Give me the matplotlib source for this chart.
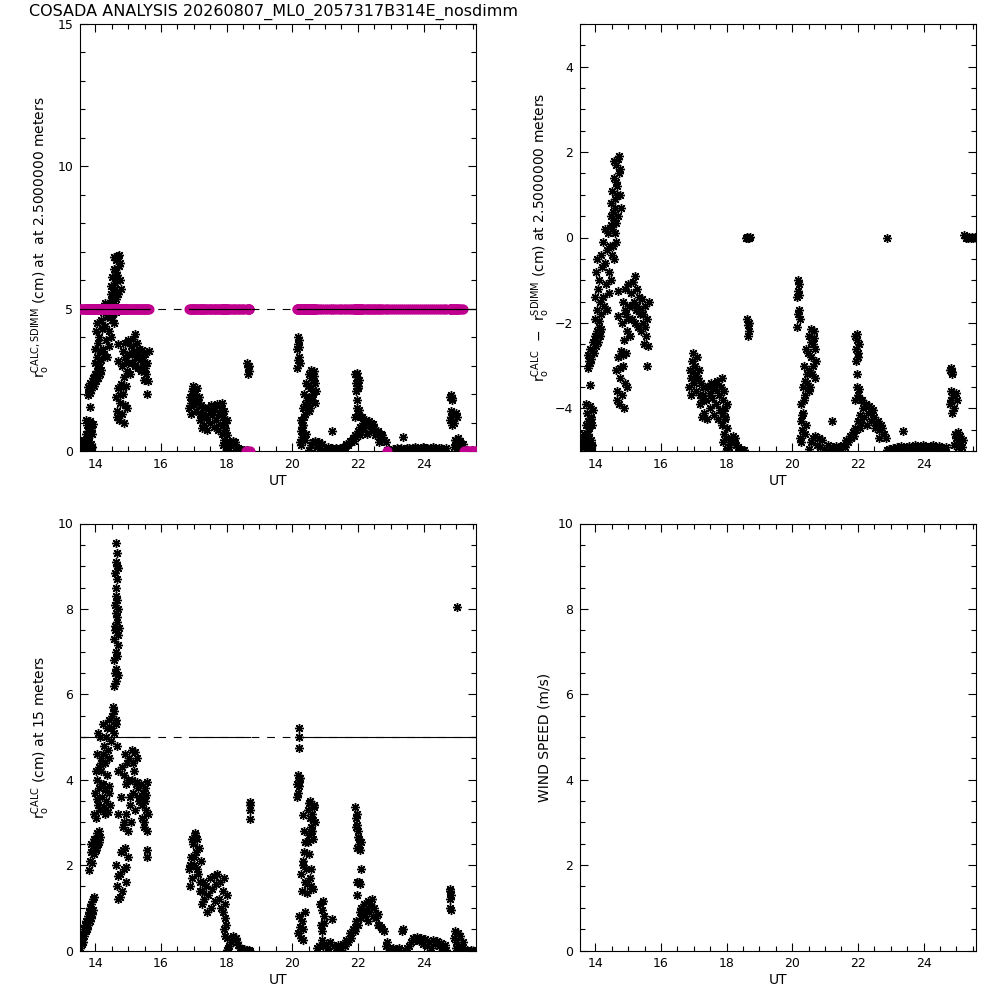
import numpy as np
import matplotlib
matplotlib.use('Agg')
import matplotlib.pyplot as plt
from matplotlib.ticker import MultipleLocator

## r0 from CALC at 2.5 m (top left), UT in hours
ut25 = [
    13.54, 13.58, 13.62, 13.66, 13.70, 13.74, 13.78, 13.82, 13.86, 13.90, 13.56, 13.64, 13.72, 13.80, 13.88,
    13.70, 13.74, 13.78, 13.82, 13.86, 13.90, 13.94, 13.72, 13.80, 13.88, 13.83,
    13.76, 13.78, 13.82, 13.85, 13.88, 13.92, 13.95, 13.98, 14.02, 14.05, 14.08, 14.12, 14.15, 14.18, 13.80, 13.90, 14.00, 14.10,
    13.98, 14.00, 14.02, 14.04, 14.06, 14.08, 14.10, 14.12, 14.14, 14.16, 14.18, 14.20,
    14.22, 14.24, 14.26, 14.28, 14.30, 14.32, 14.34, 14.36, 14.38, 14.40, 14.42, 14.44, 14.46, 14.48,
    14.50, 14.52, 14.54, 14.56, 14.58, 14.60, 14.62, 14.64,
    14.46, 14.49, 14.52, 14.55, 14.58, 14.61, 14.64, 14.67, 14.70, 14.73, 14.76, 14.79, 14.56, 14.62, 14.68, 14.74, 14.60, 14.66, 14.72,
    14.69, 14.70,
    14.62, 14.65, 14.68, 14.71, 14.74, 14.77, 14.80, 14.83, 14.86, 14.89, 14.92, 14.95, 14.66, 14.75, 14.84,
    14.82, 14.85, 14.88, 14.91, 14.94, 14.97, 15.00, 15.03, 15.06, 15.09, 15.12, 15.15, 15.18, 15.21, 15.24, 15.27, 15.30, 15.33, 15.36,
    14.90, 15.00, 15.10, 15.20, 15.28,
    15.36, 15.39, 15.42, 15.45, 15.48, 15.51, 15.54, 15.57, 15.60, 15.44, 15.52, 15.62, 15.57,
    16.85, 16.88, 16.91, 16.94, 16.97, 17.00, 17.03, 17.06, 17.09, 17.12, 17.15, 17.18, 17.21, 17.24, 17.27, 16.90, 16.96, 17.04,
    17.20, 17.24, 17.28, 17.32, 17.36, 17.40, 17.44, 17.48, 17.52, 17.56, 17.60, 17.64, 17.68, 17.72, 17.76, 17.80, 17.84, 17.88, 17.92, 17.96, 18.00,
    17.34, 17.50, 17.62, 17.74, 17.86,
    17.86, 17.89, 17.92, 17.95, 17.98, 18.01, 17.90, 17.96,
    17.98, 18.02, 18.06, 18.10, 18.14, 18.18, 18.22, 18.26, 18.30, 18.34, 18.38, 18.42, 18.46, 18.50, 18.54, 18.58, 18.62, 18.66, 18.70,
    18.63, 18.64, 18.65, 18.67, 18.68, 18.69,
    20.14, 20.16, 20.18, 20.20, 20.22, 20.15, 20.19, 20.23, 20.17,
    20.24, 20.26, 20.28, 20.30, 20.32, 20.34, 20.36, 20.38, 20.40, 20.42, 20.44, 20.27, 20.31, 20.35, 20.39, 20.43,
    20.46, 20.48, 20.50, 20.52, 20.54, 20.56, 20.58, 20.60, 20.62, 20.64, 20.66, 20.68, 20.70, 20.72, 20.50, 20.58, 20.66,
    20.50, 20.56, 20.62, 20.68, 20.74, 20.80, 20.86, 20.92, 20.98, 21.04, 21.10, 21.16, 21.22, 21.28, 21.34, 21.40, 21.46, 21.21,
    21.50, 21.55, 21.60, 21.65, 21.70, 21.75, 21.80, 21.85, 21.90, 21.95, 22.00, 22.05, 22.10, 22.15,
    22.20, 22.25, 22.30, 22.35, 22.40, 22.45, 22.50, 22.55, 22.60, 22.65, 22.70, 22.75, 22.80, 22.85,
    22.05, 22.12, 22.28, 22.40, 22.52, 21.88, 22.65,
    21.90, 21.93, 21.96, 21.99, 22.02, 21.95, 21.98, 22.01,
    21.92, 21.96, 22.00, 22.04, 22.08, 21.98,
    22.88, 22.90, 22.96, 23.02, 23.08, 23.14, 23.20, 23.26, 23.32, 23.44, 23.50, 23.56, 23.62, 23.68, 23.74, 23.80,
    23.86, 23.92, 23.98, 24.04, 24.10, 24.16, 24.22, 24.28, 24.34, 24.40, 24.46, 24.52, 24.58, 24.64, 24.70, 23.38,
    24.82, 24.86, 24.84, 24.88, 24.80, 24.83, 24.86, 24.89, 24.92, 24.98, 25.02, 24.84,
    24.92, 24.95, 25.00, 25.04, 25.06, 25.08, 25.12, 25.16, 25.20, 25.24,
    25.28, 25.32, 25.36, 25.40, 25.44, 25.48, 25.52, 25.56, 25.60,
]
r0_25 = [
    0.05, 0.15, 0.30, 0.10, 0.35, 0.20, 0.40, 0.05, 0.25, 0.15, 0.30, 0.40, 0.05, 0.30, 0.10,
    0.60, 0.90, 0.70, 1.05, 0.80, 0.60, 0.95, 1.10, 0.55, 0.75, 1.55,
    1.95, 2.25, 2.05, 2.40, 2.15, 2.55, 2.30, 2.70, 2.45, 2.80, 2.55, 2.90, 2.70, 2.85, 2.10, 2.35, 2.60, 2.75,
    3.10, 3.60, 4.20, 3.30, 4.50, 3.80, 3.05, 4.00, 3.50, 4.60, 3.20, 4.30,
    3.60, 4.90, 3.40, 4.40, 5.20, 3.90, 4.70, 3.30, 5.10, 4.20, 3.70, 4.80, 5.30, 4.00,
    4.60, 5.20, 4.80, 5.40, 4.50, 5.10, 4.90, 5.35,
    5.50, 5.80, 6.10, 5.60, 6.40, 5.90, 6.70, 6.20, 6.85, 6.50, 6.00, 5.70, 6.80, 6.30, 5.50, 6.60, 5.70, 6.00, 6.90,
    3.75, 3.15,
    1.90, 1.40, 2.20, 1.10, 1.70, 2.35, 1.30, 2.00, 1.00, 1.60, 2.30, 1.50, 1.20, 1.95, 2.25,
    3.00, 3.50, 2.60, 3.80, 3.20, 2.80, 3.90, 3.40, 2.70, 3.70, 3.10, 3.95, 3.50, 4.10, 3.30, 3.80, 2.90, 3.60, 3.20,
    3.30, 3.10, 3.40, 3.00, 3.40,
    3.30, 2.80, 3.55, 3.00, 2.50, 3.40, 2.70, 3.10, 2.45, 3.20, 2.90, 3.50, 2.00,
    1.50, 1.90, 1.30, 2.10, 2.30, 1.60, 2.00, 1.40, 2.20, 1.70, 1.90, 1.30, 1.60, 1.20, 1.50, 1.70, 1.85, 1.75,
    1.10, 0.80, 1.30, 0.90, 1.20, 0.75, 1.50, 1.00, 1.60, 1.25, 0.85, 1.45, 1.10, 1.65, 1.30, 0.95, 1.50, 1.20, 1.40, 0.80, 1.10,
    1.50, 1.35, 1.55, 0.75, 1.70,
    0.60, 0.90, 0.40, 0.75, 0.30, 0.55, 0.20, 1.00,
    0.00, 0.05, 0.10, 0.20, 0.30, 0.35, 0.25, 0.30, 0.15, 0.10, 0.05, 0.00, 0.02, 0.00, 0.03, 0.00, 0.02, 0.00, 0.01,
    3.10, 2.70, 2.95, 2.80, 3.00, 5.00,
    3.60, 4.00, 3.75, 3.90, 3.65, 2.90, 3.30, 3.10, 3.20,
    0.30, 0.70, 1.10, 0.50, 1.50, 0.90, 2.00, 0.40, 1.30, 2.40, 1.80, 0.20, 0.85, 1.20, 1.65, 0.60,
    1.60, 2.30, 1.90, 2.70, 1.50, 2.20, 2.85, 1.80, 2.50, 2.00, 2.65, 1.70, 2.40, 2.10, 1.40, 2.55, 2.80,
    0.05, 0.20, 0.30, 0.35, 0.15, 0.30, 0.10, 0.25, 0.05, 0.00, 0.15, 0.05, 0.10, 0.00, 0.12, 0.05, 0.10, 0.70,
    0.05, 0.15, 0.10, 0.25, 0.20, 0.35, 0.30, 0.45, 0.55, 0.50, 0.70, 0.85, 0.65, 1.00,
    0.80, 1.10, 0.90, 1.05, 0.70, 0.95, 0.80, 0.65, 0.70, 0.50, 0.60, 0.55, 0.40, 0.30,
    0.55, 1.20, 0.60, 1.00, 0.55, 0.35, 0.30,
    2.70, 2.40, 2.60, 2.20, 2.50, 2.10, 2.75, 2.30,
    1.20, 1.50, 1.30, 1.45, 1.20, 1.80,
    0.00, 0.02, 0.05, 0.00, 0.08, 0.03, 0.10, 0.05, 0.12, 0.08, 0.10, 0.12, 0.06, 0.10, 0.14, 0.12,
    0.08, 0.10, 0.15, 0.12, 0.10, 0.08, 0.12, 0.14, 0.10, 0.06, 0.12, 0.10, 0.08, 0.05, 0.10, 0.48,
    1.90, 1.85, 1.95, 1.80, 1.10, 1.40, 0.90, 1.30, 1.00, 1.35, 1.20, 1.20,
    0.15, 0.40, 0.30, 0.45, 0.10, 0.20, 0.35, 0.10, 0.25, 0.05,
    0.00, 0.02, 0.00, 0.01, 0.00, 0.02, 0.00, 0.01, 0.00,
]

## SDIMM r0 (magenta): 5 cm everywhere it ran, 0 at these times
sdimm_level = 5.0
sdimm_zero_ut = [18.58, 18.62, 18.66, 18.70, 22.88,
                 25.24, 25.28, 25.32, 25.36, 25.40, 25.44, 25.48, 25.52, 25.56, 25.60]

## r0 from CALC at 15 m (bottom left)
ut15 = [
    13.54, 13.56, 13.58, 13.60, 13.62, 13.64, 13.66, 13.68, 13.70, 13.72, 13.74, 13.76,
    13.78, 13.80, 13.82, 13.84, 13.86, 13.88, 13.90, 13.92, 13.94, 13.96, 13.80,
    13.84, 13.87, 13.90, 13.93, 13.96, 13.99, 14.02, 14.05, 14.08, 14.11, 14.14, 13.88, 13.95, 14.03, 14.10,
    13.96, 13.99, 14.02, 14.05, 14.08, 14.11, 14.14, 14.17, 14.20, 14.23, 14.26,
    14.29, 14.32, 14.35, 14.38, 14.41, 14.44, 14.04, 14.16, 14.28, 14.40,
    14.02, 14.06, 14.10, 14.14, 14.18, 14.22, 14.26, 14.30, 14.34, 14.38, 14.42, 14.46, 14.50,
    14.54, 14.58, 14.62, 14.66, 14.08, 14.16, 14.24, 14.32, 14.40, 14.48, 14.56, 14.64,
    14.56, 14.60, 14.64, 14.68, 14.58, 14.62, 14.66, 14.70, 14.57, 14.61, 14.65, 14.69, 14.59, 14.63, 14.67,
    14.71, 14.60, 14.64, 14.68, 14.62, 14.66, 14.61, 14.65, 14.69, 14.63, 14.67, 14.64, 14.62, 14.66,
    14.69, 14.70,
    14.62, 14.66, 14.70, 14.74, 14.78, 14.82, 14.86, 14.90, 14.94, 14.98, 14.68, 14.76, 14.84, 14.92,
    14.78, 14.82, 14.86, 14.90, 14.94, 14.98, 15.02, 15.06, 15.10, 15.14, 15.18, 15.22, 15.26, 15.30,
    15.34, 14.84, 14.92, 15.00, 15.08, 15.16, 15.24, 15.32, 14.88, 14.96, 15.04, 15.12, 15.20, 15.28,
    15.40, 15.43, 15.46, 15.49, 15.52, 15.55, 15.58, 15.44, 15.50, 15.56, 15.41, 15.47, 15.53, 15.59, 15.57, 15.57,
    16.85, 16.88, 16.91, 16.94, 16.97, 17.00, 17.03, 17.06, 17.09, 17.12, 17.15, 17.18, 17.21, 17.24,
    16.87, 16.93, 16.99, 17.05, 17.11,
    17.20, 17.24, 17.28, 17.32, 17.36, 17.40, 17.44, 17.48, 17.52, 17.56, 17.60, 17.64, 17.68, 17.72,
    17.76, 17.80, 17.84, 17.88, 17.92, 17.96, 18.00,
    17.88, 17.92, 17.96, 18.00, 17.94, 17.98,
    18.00, 18.04, 18.08, 18.12, 18.16, 18.20, 18.24, 18.28, 18.32, 18.36, 18.40, 18.44, 18.48, 18.52,
    18.56, 18.60, 18.64, 18.68, 18.72,
    18.70, 18.70, 18.70, 18.70,
    20.14, 20.16, 20.18, 20.20, 20.22, 20.15, 20.19, 20.23, 20.20, 20.20, 20.21,
    20.48, 20.51, 20.54, 20.57, 20.60, 20.63, 20.66, 20.68, 20.49, 20.55, 20.61, 20.67, 20.52, 20.58, 20.64,
    20.26, 20.30, 20.34, 20.38, 20.42, 20.46, 20.50, 20.54, 20.58, 20.62, 20.32, 20.44, 20.56,
    20.18, 20.22, 20.26, 20.30, 20.34, 20.38, 20.24, 20.32,
    20.33, 20.36, 20.38, 20.36,
    20.86, 20.90, 20.94, 20.98, 20.88, 20.92, 20.96, 20.90, 20.94, 21.21,
    20.76, 20.82, 21.02, 21.08, 21.14, 21.26, 21.32, 21.38, 21.44,
    21.50, 21.55, 21.60, 21.65, 21.70, 21.75, 21.80, 21.85, 21.90, 21.95, 22.00, 22.05, 22.10, 22.15,
    22.20, 22.25, 22.30, 22.35, 22.40, 22.45, 22.50, 22.55, 22.60, 22.65, 22.70, 22.75, 22.80,
    22.10, 22.22, 22.32, 22.42, 21.92, 22.62,
    21.92, 21.95, 21.98, 21.94, 21.97, 22.00, 22.03, 21.96, 21.99, 22.02, 22.05, 22.08,
    22.08, 21.96, 22.02, 22.06, 21.98,
    23.33, 23.37,
    22.85, 22.90, 22.96, 23.02, 23.08, 23.14, 23.20, 23.26, 23.44, 23.50, 23.56, 23.62, 23.68, 23.74, 23.80,
    23.86, 23.92, 23.98, 24.04, 24.10, 24.16, 24.22, 24.28, 24.34, 24.40, 24.46, 24.52, 24.58, 24.64, 24.70,
    24.80, 24.82, 24.84, 24.80, 24.84, 24.82,
    24.92, 24.96, 25.00, 25.04, 25.08, 25.12, 25.16, 25.20, 25.24, 24.98, 25.02,
    25.28, 25.34, 25.40, 25.46, 25.52, 25.58,
]
r0_15 = [
    0.05, 0.30, 0.15, 0.40, 0.20, 0.50, 0.35, 0.60, 0.45, 0.70, 0.50, 0.80,
    0.60, 0.90, 0.70, 1.00, 0.75, 1.10, 0.85, 1.20, 0.95, 1.25, 1.88,
    2.10, 2.30, 2.05, 2.45, 2.25, 2.60, 2.40, 2.75, 2.50, 2.80, 2.65, 2.50, 2.60, 2.35, 2.55,
    3.20, 3.70, 3.10, 4.00, 3.40, 3.80, 3.30, 4.20, 3.60, 3.90, 3.35,
    3.75, 3.50, 4.10, 3.25, 3.70, 3.40, 3.55, 3.90, 3.20, 3.85,
    4.20, 4.60, 4.30, 5.00, 4.50, 5.30, 4.80, 4.40, 5.20, 4.70, 5.40, 4.90, 5.50,
    5.70, 5.10, 5.40, 4.80, 5.10, 4.40, 4.60, 5.00, 4.50, 5.20, 5.60, 5.30,
    6.20, 6.50, 6.30, 6.45, 6.80, 7.00, 6.90, 7.15, 7.30, 7.50, 7.70, 7.40, 7.60, 7.90, 7.80,
    7.55, 8.10, 8.30, 8.00, 8.50, 8.70, 8.85, 9.00, 8.95, 9.10, 9.30, 9.55, 6.60, 8.20,
    4.20, 3.20,
    2.00, 1.50, 1.20, 1.80, 2.30, 1.40, 1.90, 2.40, 1.60, 2.20, 1.75, 1.25, 2.35, 1.95,
    3.60, 4.30, 3.00, 4.60, 3.90, 2.80, 4.50, 3.40, 4.70, 3.70, 4.20, 3.30, 4.50, 3.80,
    3.50, 2.90, 3.20, 4.00, 3.00, 4.40, 3.90, 3.60, 4.10, 4.40, 3.60, 4.00, 4.65, 3.95,
    3.90, 3.40, 3.70, 3.00, 3.80, 3.30, 2.80, 3.60, 3.50, 3.95, 3.10, 2.90, 3.65, 3.20, 2.20, 2.35,
    1.90, 1.50, 2.20, 1.70, 2.50, 2.00, 2.75, 2.30, 2.60, 1.80, 2.40, 1.60, 2.10, 1.40,
    2.00, 2.60, 2.20, 2.70, 1.90,
    1.40, 1.10, 1.60, 1.20, 1.50, 0.90, 1.30, 1.70, 1.00, 1.45, 1.75, 1.15, 1.55, 1.80,
    1.20, 1.60, 1.00, 1.40, 1.70, 1.10, 1.30,
    0.90, 0.50, 0.75, 0.30, 0.35, 0.60,
    0.02, 0.05, 0.10, 0.20, 0.30, 0.35, 0.28, 0.30, 0.20, 0.12, 0.05, 0.02, 0.00, 0.03,
    0.00, 0.02, 0.00, 0.01, 0.00,
    3.08, 3.30, 3.48, 3.40,
    3.90, 4.10, 3.70, 4.00, 3.85, 3.60, 3.95, 4.05, 4.75, 5.00, 5.20,
    3.30, 2.70, 3.50, 2.90, 3.20, 2.60, 3.40, 3.00, 2.55, 3.10, 2.80, 3.35, 3.45, 2.75, 3.05,
    1.80, 1.40, 2.10, 1.60, 1.90, 1.35, 2.25, 1.70, 1.50, 1.45, 2.00, 1.55, 1.90,
    0.40, 0.80, 0.30, 0.70, 0.50, 0.90, 0.55, 0.25,
    3.18, 2.80, 2.55, 2.30,
    1.10, 0.95, 1.15, 0.80, 0.60, 0.45, 0.65, 0.25, 0.10, 0.73,
    0.05, 0.10, 0.15, 0.05, 0.20, 0.10, 0.05, 0.12, 0.08,
    0.05, 0.15, 0.10, 0.25, 0.20, 0.40, 0.30, 0.50, 0.45, 0.70, 0.60, 0.90, 1.00, 0.85,
    1.10, 0.95, 1.15, 0.90, 1.05, 0.80, 1.00, 0.75, 0.85, 0.60, 0.55, 0.50, 0.45,
    0.75, 0.80, 0.70, 1.20, 0.55, 0.60,
    3.35, 3.10, 2.95, 2.90, 3.20, 2.80, 2.60, 2.40, 2.65, 2.50, 2.35, 2.55,
    1.90, 1.60, 1.60, 1.55, 1.30,
    0.45, 0.50,
    0.10, 0.20, 0.05, 0.02, 0.05, 0.00, 0.03, 0.05, 0.02, 0.05, 0.10, 0.20, 0.30, 0.25, 0.32,
    0.22, 0.30, 0.15, 0.28, 0.10, 0.20, 0.05, 0.25, 0.15, 0.22, 0.10, 0.18, 0.05, 0.12, 0.02,
    1.40, 1.20, 1.30, 1.00, 0.95, 1.45,
    0.30, 0.45, 0.20, 0.40, 0.10, 0.35, 0.05, 0.20, 0.00, 0.05, 8.05,
    0.00, 0.01, 0.00, 0.02, 0.00, 0.00,
]

title = 'COSADA ANALYSIS 20260807_ML0_2057317B314E_nosdimm'
xrange_ut = (13.53, 25.60)

plt.rcParams['mathtext.default'] = 'regular'
plt.rcParams['font.family'] = 'DejaVu Sans'

ut25 = np.array(ut25)
r0_25 = np.array(r0_25)
ut15 = np.array(ut15)
r0_15 = np.array(r0_15)
sdimm25 = np.where(np.isin(ut25, sdimm_zero_ut), 0.0, sdimm_level)
diff25 = r0_25 - sdimm25

## stretches where the SDIMM ran -> solid reference line, dashed elsewhere
ts = np.sort(ut25)
brk = np.where(np.diff(ts) > 0.5)[0]
seg_start = np.r_[ts[0], ts[brk + 1]]
seg_end = np.r_[ts[brk], ts[-1]]

ASTER = (8, 2, 0)
MAG = '#c0008e'


def style_axis(ax, ylim, ymajor, yminor):
    ax.set_xlim(*xrange_ut)
    ax.set_ylim(*ylim)
    ax.xaxis.set_major_locator(MultipleLocator(2))
    ax.xaxis.set_minor_locator(MultipleLocator(0.5))
    ax.yaxis.set_major_locator(MultipleLocator(ymajor))
    ax.yaxis.set_minor_locator(MultipleLocator(yminor))
    ax.tick_params(which='both', direction='in', top=True, right=True,
                   labelsize=9, width=0.8, pad=5)
    ax.tick_params(which='major', length=6)
    ax.tick_params(which='minor', length=3.5)
    for s in ax.spines.values():
        s.set_linewidth(0.8)
    ax.set_xlabel('UT', fontsize=10, labelpad=2)


def ref_line(ax):
    ax.axhline(sdimm_level, color='k', lw=0.8, ls=(0, (7, 7)), zorder=4)
    for a, b in zip(seg_start, seg_end):
        ax.plot([a, b], [sdimm_level, sdimm_level], color='k', lw=0.8, zorder=4)


fig = plt.figure(figsize=(10, 10), dpi=100)
ax1 = fig.add_axes([0.080, 0.549, 0.396, 0.427])
ax2 = fig.add_axes([0.580, 0.549, 0.396, 0.427])
ax3 = fig.add_axes([0.080, 0.0495, 0.396, 0.427])
ax4 = fig.add_axes([0.580, 0.0495, 0.396, 0.427])

## top left: r0 calc and sdimm at 2.5 m
ax1.plot(ut25, r0_25, ls='none', marker=ASTER, ms=6.5, mew=1.0, color='k', zorder=2)
ax1.plot(ut25, sdimm25, ls='none', marker=ASTER, ms=6.8, mew=2.5, color=MAG, zorder=3)
ref_line(ax1)
style_axis(ax1, (0, 15), 5, 1)
ax1.text(-0.10, 0.5, r'r$_o^{CALC,SDIMM}$ (cm) at  at 2.5000000 meters',
         rotation=90, ha='center', va='center', fontsize=10, transform=ax1.transAxes)

## top right: difference
ax2.plot(ut25, diff25, ls='none', marker=ASTER, ms=6.5, mew=1.0, color='k')
style_axis(ax2, (-5, 5), 2, 0.5)
ax2.text(-0.10, 0.5, r'r$_o^{CALC}$  $-$  r$_o^{SDIMM}$ (cm) at 2.5000000 meters',
         rotation=90, ha='center', va='center', fontsize=10, transform=ax2.transAxes)

## bottom left: r0 calc at 15 m
ax3.plot(ut15, r0_15, ls='none', marker=ASTER, ms=6.5, mew=1.0, color='k', zorder=2)
ref_line(ax3)
style_axis(ax3, (0, 10), 2, 0.5)
ax3.text(-0.10, 0.5, r'r$_o^{CALC}$ (cm) at 15 meters',
         rotation=90, ha='center', va='center', fontsize=10, transform=ax3.transAxes)

## bottom right: wind speed (no data)
style_axis(ax4, (0, 10), 2, 0.5)
ax4.text(-0.09, 0.5, 'WIND SPEED (m/s)',
         rotation=90, ha='center', va='center', fontsize=10, transform=ax4.transAxes)

fig.text(0.029, 0.996, title, ha='left', va='top', fontsize=11.5)

fig.savefig('out.png', dpi=100)
